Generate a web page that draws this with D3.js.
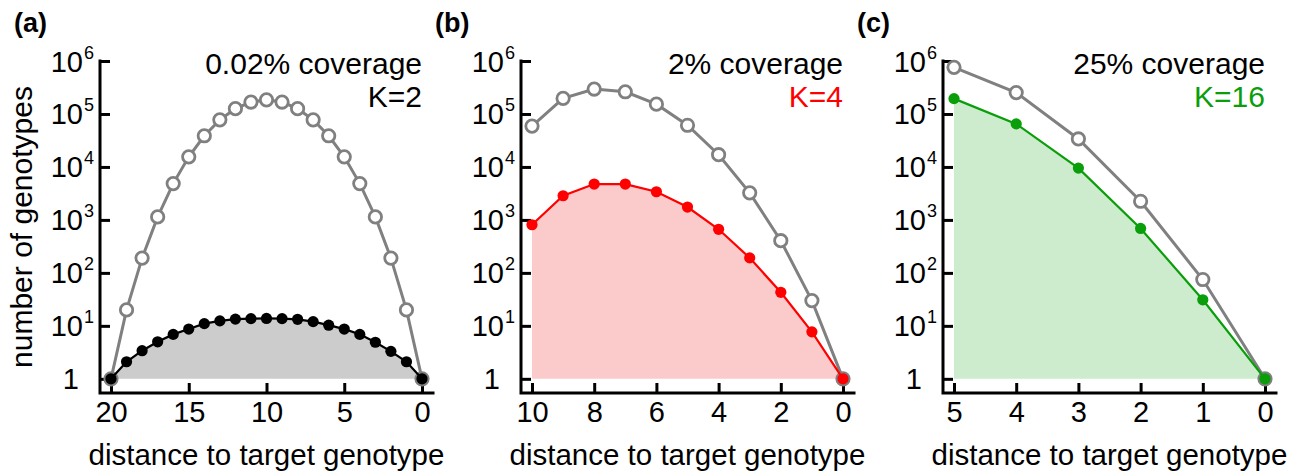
<!DOCTYPE html>
<html>
<head>
<script src="https://d3js.org/d3.v7.min.js" charset="utf-8"></script>
<style>
    body{margin:0;background:#fff;font-family:"Liberation Sans",Arial,sans-serif;}
    text{font-family:"Liberation Sans",Arial,sans-serif;}
</style>
</head>
<body>
<div id="chart"></div>
<script>

// panel (a): binary alphabet, 20 sites
var distA = [20,19,18,17,16,15,14,13,12,11,10,9,8,7,6,5,4,3,2,1,0]
var allA = [1,20,190,1140,4845,15504,38760,77520,125970,167960,184756,167960,125970,77520,38760,15504,4845,1140,190,20,1]
var reachA = [1,2.1,3.4,5.0,6.9,8.7,11,12.4,13.4,13.7,13.8,13.7,13.3,12,10.3,8.7,6.9,4.9,3.3,2.1,1]
var ticksA = [20,15,10,5,0]

// panel (b)
var distB = [10,9,8,7,6,5,4,3,2,1,0]
var allB = [59049,196830,295245,262440,153090,61236,17010,3240,405,30,1]
var reachB = [810,2860,4750,4750,3400,1750,665,192,43,7.7,1]
var ticksB = [10,8,6,4,2,0]

// panel (c)
var distC = [5,4,3,2,1,0]
var allC = [759375,253125,33750,2250,75,1]
var reachC = [195000,65000,9500,690,31,1]
var ticksC = [5,4,3,2,1,0]

var coverage = ["0.02% coverage","2% coverage","25% coverage"]
var kLabels = ["K=2","K=4","K=16"]
var letters = ["(a)","(b)","(c)"]
var yExponents = [0,1,2,3,4,5,6]

var lineColors = ["#000000","#ff0000","#0a9e0a"]
var fillColors = ["#cccccc","#fbcbcb","#cdebcd"]
var kColors = ["#000000","#ff0000","#0a9e0a"]
var gray = "#808080"

var panels = [
    {dist:distA, all:allA, reach:reachA, ticks:ticksA, x0:100},
    {dist:distB, all:allB, reach:reachB, ticks:ticksB, x0:521},
    {dist:distC, all:allC, reach:reachC, ticks:ticksC, x0:943}
]

var yTop = 61, yBase = 393, axisLen = 333

var svg = d3.select("#chart").append("svg")
    .attr("width",1303).attr("height",471)

var y = d3.scaleLog().domain([0.54,1e6]).range([yBase,yTop])

svg.append("text")
    .attr("transform","translate(32,"+((yTop+yBase)/2)+") rotate(-90)")
    .attr("text-anchor","middle")
    .attr("font-size",30)
    .text("number of genotypes")

panels.forEach(function(p,i){
    var g = svg.append("g")
    var x = d3.scaleLinear().domain([d3.max(p.dist),0]).range([p.x0+11,p.x0+322])
    var pts = p.dist.map(function(d,j){return {d:d, all:p.all[j], reach:p.reach[j]}})

    // filled area under reachable genotypes
    g.append("path")
        .datum(pts)
        .attr("fill",fillColors[i])
        .attr("d",d3.area().x(function(d){return x(d.d)}).y0(y(1)).y1(function(d){return y(d.reach)}))

    // axes
    var xAxis = g.append("g").attr("transform","translate(0,"+yBase+")")
        .call(d3.axisBottom(x).tickValues(p.ticks).tickSize(-10).tickFormat(""))
    xAxis.select(".domain").remove()
    xAxis.selectAll(".tick line").attr("stroke","#000").attr("stroke-width",3)
    xAxis.selectAll(".tick").append("text")
        .attr("y",29).attr("fill","#000")
        .attr("text-anchor","middle").attr("font-size",29)
        .text(function(d){return d})

    var yAxis = g.append("g").attr("transform","translate("+p.x0+",0)")
        .call(d3.axisLeft(y).tickValues(yExponents.map(function(e){return Math.pow(10,e)})).tickSize(-10).tickFormat(""))
    yAxis.select(".domain").remove()
    yAxis.selectAll(".tick line").attr("stroke","#000").attr("stroke-width",3)
    var lab = yAxis.selectAll(".tick").append("text")
        .attr("fill","#000").attr("font-size",29)
        .attr("x",-6).attr("y",10).attr("text-anchor","end")
    lab.each(function(d){
        var e = Math.round(Math.log10(d))
        var t = d3.select(this)
        if(e==0){ t.attr("x",-21).text("1") }
        else{
            t.append("tspan").text("10")
            t.append("tspan").attr("font-size",18).attr("dx",1).attr("dy",-13).text(e)
        }
    })

    g.append("path")
        .attr("d","M"+p.x0+","+yTop+"V"+yBase+"H"+(p.x0+axisLen))
        .attr("fill","none").attr("stroke","#000").attr("stroke-width",3)
        .attr("stroke-linecap","square")

    // all genotypes (gray open circles)
    g.append("path").datum(pts)
        .attr("fill","none").attr("stroke",gray).attr("stroke-width",3)
        .attr("d",d3.line().x(function(d){return x(d.d)}).y(function(d){return y(d.all)}))
    g.selectAll(".open").data(pts).enter().append("circle")
        .attr("cx",function(d){return x(d.d)}).attr("cy",function(d){return y(d.all)})
        .attr("r",6.2).attr("fill","#fff").attr("stroke",gray).attr("stroke-width",2.8)

    // reachable genotypes
    g.append("path").datum(pts)
        .attr("fill","none").attr("stroke",lineColors[i]).attr("stroke-width",2.2)
        .attr("d",d3.line().x(function(d){return x(d.d)}).y(function(d){return y(d.reach)}))
    g.selectAll(".dot").data(pts).enter().append("circle")
        .attr("cx",function(d){return x(d.d)}).attr("cy",function(d){return y(d.reach)})
        .attr("r",5.6).attr("fill",lineColors[i])

    // labels
    g.append("text").attr("x",p.x0+322).attr("y",74)
        .attr("text-anchor","end").attr("font-size",30).text(coverage[i])
    g.append("text").attr("x",p.x0+322).attr("y",107)
        .attr("text-anchor","end").attr("font-size",30).attr("fill",kColors[i]).text(kLabels[i])
    g.append("text").attr("x",p.x0-86).attr("y",32)
        .attr("font-size",27).attr("font-weight","bold").text(letters[i])
    g.append("text").attr("x",p.x0+axisLen/2).attr("y",465)
        .attr("text-anchor","middle").attr("font-size",29.5).text("distance to target genotype")
})

</script>
</body>
</html>
